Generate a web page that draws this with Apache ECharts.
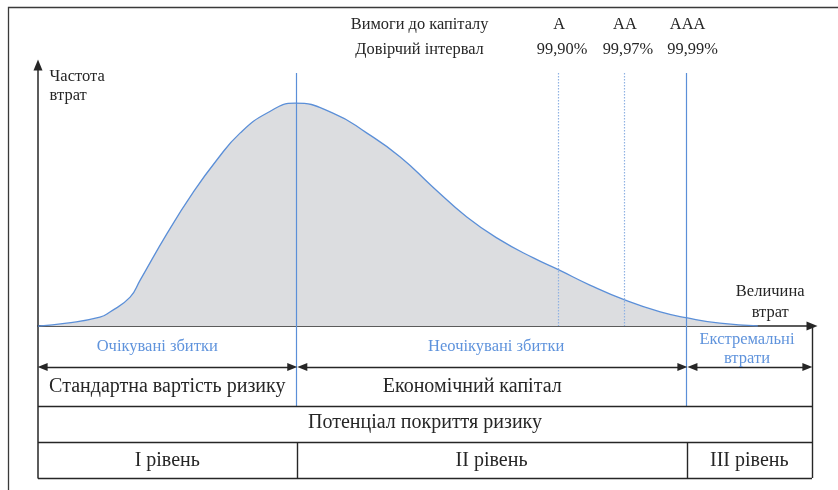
<!DOCTYPE html>
<html><head><meta charset="utf-8">
<script src="https://cdn.jsdelivr.net/npm/echarts@6/dist/echarts.min.js"></script>
<style>html,body{margin:0;padding:0;background:#fff}#c{width:838px;height:490px}</style>
</head><body><div id="c"></div>
<script>
// ---- DATA ----
// Loss distribution: x = loss size, y = loss frequency
const lossSize      = [0, 3.7, 8.0, 9.3, 11.9, 13.2, 16.7, 20.0, 23.1, 26.1, 29.6, 33.2, 38.1, 42.5, 46.8, 51.0, 55.4, 59.7, 64.0, 67.3, 71.3, 75.8, 80.4, 83.9, 88.1, 93.0];
const lossFrequency = [0, 1.1, 3.4, 5.4, 11.1, 17.6, 35.6, 51.0, 63.6, 73.9, 81.6, 85.4, 81.6, 73.9, 64.8, 53.3, 41.8, 33.0, 26.1, 21.5, 15.7, 10.0, 5.4, 3.1, 1.1, 0.1];
const expectedLoss = 33.4;                       // mean of the distribution
const ratingLabels = ['A', 'AA', 'AAA'];
const confidenceLabels = ['99,90%', '99,97%', '99,99%'];
const ratingQuantiles = [67.2, 75.7, 83.8];
const headerLabels = ['Вимоги до капіталу', 'Довірчий інтервал'];
const axisLabels = ['Частота\nвтрат', 'Величина\nвтрат'];
const lossZones = ['Очікувані збитки', 'Неочікувані збитки', 'Екстремальні\nвтрати'];
const capitalRow = ['Стандартна вартість ризику', 'Економічний капітал'];
const coverageRow = ['Потенціал покриття ризику'];
const levelRow = ['І рівень', 'ІІ рівень', 'ІІІ рівень'];

// ---- LAYOUT ----
const ink = '#262626', blue = '#5b8fd8', lightBlue = '#8fb2e3', grey = '#dcdde0', textBlue = '#5f93dc';
const xMax = 100, yMax = 100, yMin = -58.2;
const yArrow = -15.7, yRow2 = -30.7, yRow3 = -44.4, yRow4 = yMin;
const lineTop = 96.9;
const cols = [0, expectedLoss, ratingQuantiles[2], xMax];
const serif = '"Liberation Serif", "DejaVu Serif", serif';

function seg(x0, y0, x1, y1, style, s0, s1) {
  return [
    { coord: [x0, y0], lineStyle: style, symbol: s0 || 'none', symbolSize: [8, 10] },
    { coord: [x1, y1], symbol: s1 || 'none', symbolSize: [8, 10] }
  ];
}
const solidInk = { color: ink, width: 1.4, type: 'solid' };
const solidBlue = { color: blue, width: 1.2, type: 'solid' };
const dotBlue = { color: lightBlue, width: 1.2, type: [1.5, 1.5] };

const lines = [
  // thresholds
  seg(expectedLoss, lineTop, expectedLoss, yRow2, solidBlue),
  seg(ratingQuantiles[0], lineTop, ratingQuantiles[0], 0, dotBlue),
  seg(ratingQuantiles[1], lineTop, ratingQuantiles[1], 0, dotBlue),
  seg(ratingQuantiles[2], lineTop, ratingQuantiles[2], yRow2, solidBlue),
  // table grid
  seg(0, yRow2, xMax, yRow2, solidInk),
  seg(0, yRow3, xMax, yRow3, solidInk),
  seg(0, yRow4, xMax, yRow4, solidInk),
  seg(xMax, 0, xMax, yRow4, solidInk),
  seg(cols[1] + 0.1, yRow3, cols[1] + 0.1, yRow4, solidInk),
  seg(cols[2] + 0.1, yRow3, cols[2] + 0.1, yRow4, solidInk),
  // double arrows
  seg(cols[0] + 0.6, yArrow, cols[1] - 0.55, yArrow, solidInk, 'triangle', 'triangle'),
  seg(cols[1] + 0.75, yArrow, cols[2] - 0.55, yArrow, solidInk, 'triangle', 'triangle'),
  seg(cols[2] + 0.75, yArrow, cols[3] - 0.6, yArrow, solidInk, 'triangle', 'triangle')
];

const notes = [];
function note(x, y, text, o) { notes.push(Object.assign({ x, y, text, size: 16.4, color: ink, align: 'center', lh: 19, dx: 0 }, o || {})); }
note(49.3, 115.3, headerLabels[0]);
note(49.3, 105.7, headerLabels[1]);
ratingLabels.forEach((t, i) => note(ratingQuantiles[i], 115.3, t, { dx: 1 }));
confidenceLabels.forEach((t, i) => note(ratingQuantiles[i], 105.7, t, { dx: [4, 4, 6][i] }));
note(1.5, 92.0, axisLabels[0], { align: 'left', lh: 19, size: 16.5 });
note(94.6, 9.0, axisLabels[1], { lh: 21, size: 16.5 });
note((cols[0] + cols[1]) / 2 - 1.3, -8.0, lossZones[0], { color: textBlue, size: 16.5 });
note(59.2, -8.0, lossZones[1], { color: textBlue, size: 16.5 });
note((cols[2] + cols[3]) / 2 - 0.3, -9.0, lossZones[2], { color: textBlue, lh: 19, size: 16.5 });
note((cols[0] + cols[1]) / 2, -23.3, capitalRow[0], { size: 20 });
note(56.1, -23.3, capitalRow[1], { size: 20 });
note(50, -37.2, coverageRow[0], { size: 20 });
levelRow.forEach((t, i) => note((cols[i] + cols[i + 1]) / 2, -51.7, t, { size: 20 }));

const chart = echarts.init(document.getElementById('c'), null, { renderer: 'canvas' });
chart.setOption({
  animation: false,
  backgroundColor: '#fff',
  grid: { left: 38, right: 26, top: 65, bottom: 12 },
  xAxis: {
    type: 'value', min: 0, max: xMax,
    axisLine: { onZero: true, lineStyle: { color: ink, width: 1.5 }, symbol: ['none', 'triangle'], symbolSize: [9, 11], symbolOffset: [0, 0] },
    axisTick: { show: false }, axisLabel: { show: false }, splitLine: { show: false }
  },
  yAxis: {
    type: 'value', min: yMin, max: yMax,
    axisLine: { show: true, onZero: false, lineStyle: { color: ink, width: 1.5 }, symbol: ['none', 'triangle'], symbolSize: [9, 11] },
    axisTick: { show: false }, axisLabel: { show: false }, splitLine: { show: false }
  },
  graphic: [{
    type: 'rect', shape: { x: 8.5, y: 7.5, width: 900, height: 600 },
    style: { fill: null, stroke: '#3a3a3a', lineWidth: 1.3 }, silent: true, z: -1
  }],
  series: [{
    type: 'line', name: 'curve', clip: false,
    data: lossSize.map((x, i) => [x, lossFrequency[i]]),
    smooth: 0.5, showSymbol: false, symbol: 'none',
    lineStyle: { color: blue, width: 1.3 },
    areaStyle: { color: grey, opacity: 1 },
    markLine: { silent: true, animation: false, label: { show: false }, data: lines, z: 5 },
    z: 3
  }, {
    type: 'custom', name: 'notes', clip: false, silent: true,
    data: notes.map(n => [n.x, n.y]),
    renderItem: (params, api) => {
      const n = notes[params.dataIndex];
      const p = api.coord([api.value(0), api.value(1)]);
      return {
        type: 'text', x: p[0] + n.dx, y: p[1],
        style: { text: n.text, fill: n.color, font: n.size + 'px ' + serif, align: n.align, verticalAlign: 'middle', lineHeight: n.lh }
      };
    },
    z: 6
  }]
});
</script>
</body></html>
